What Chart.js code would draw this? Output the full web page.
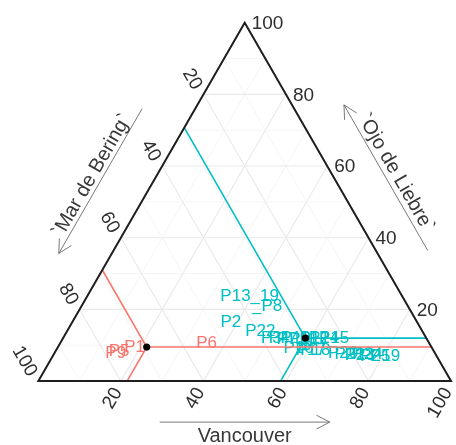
<!DOCTYPE html>
<html>
<head>
<meta charset="utf-8">
<script src="https://cdn.jsdelivr.net/npm/chart.js@4/dist/chart.umd.min.js"></script>
<style>
  html, body { margin: 0; padding: 0; background: #ffffff; }
  #wrap { width: 456px; height: 445px; position: relative; }
</style>
</head>
<body>
<div id="wrap"><canvas id="chart"></canvas></div>
<script>
// Composition (%) of each sample: Mar de Bering, Ojo de Liebre, Vancouver
const redLabels     = ["P9", "P5", "P1", "P6"];
const redBering     = [77.3, 76.2, 71.9, 53.9];
const redOjo        = [7.9, 8.5, 9.6, 10.7];
const redVancouver  = [14.8, 15.3, 18.5, 35.4];

const tealLabels    = ["P13_19", "_P8", "P2", "P22", "P3", "P4", "P7", "P10", "P11", "P12", "P14",
                       "P15", "P16", "P17", "P18", "P20", "P21", "P23", "P24", "P25", "P19"];
const tealBering    = [36.9, 34.0, 45.0, 39.1, 37.5, 35.5, 33.9, 31.6, 29.8, 27.0, 24.6,
                       22.3, 32.3, 29.5, 28.5, 22.2, 20.7, 18.4, 16.4, 14.8, 12.4];
const tealOjo       = [23.8, 21.1, 16.7, 14.2, 12.1, 12.3, 11.8, 12.1, 11.8, 12.1, 12.3,
                       12.1, 9.3, 9.0, 8.8, 7.9, 7.7, 7.4, 7.7, 7.1, 7.1];
const tealVancouver = [39.3, 44.9, 38.3, 46.7, 50.4, 52.2, 54.3, 56.3, 58.4, 60.9, 63.1,
                       65.6, 58.4, 61.5, 62.7, 69.9, 71.6, 74.2, 75.9, 78.1, 80.5];

// Group centres (red, teal)
const centerBering    = [69.0, 29.3];
const centerOjo       = [9.5, 12.0];
const centerVancouver = [21.5, 58.7];

const axisTicks  = [20, 40, 60, 80, 100];
const gridSteps  = [10, 20, 30, 40, 50, 60, 70, 80, 90];

const RED  = "#F8766D";
const TEAL = "#00BFC4";
const FONT = "'Liberation Sans', Arial, sans-serif";
const H = Math.sqrt(3) / 2;

// ternary (Bering, Ojo, Vancouver) -> cartesian in the unit triangle
function tern(l, t, r) {
  const s = l + t + r;
  return { x: (r + t / 2) / s, y: (t / s) * H };
}
function points(L, T, R) { return L.map((l, i) => tern(l, T[i], R[i])); }

// segments from a centre to each of the three axes
function projections(i) {
  const l = centerBering[i], t = centerOjo[i], r = centerVancouver[i];
  const c = tern(l, t, r);
  return [
    [c, tern(0, t, 100 - t)],      // constant Ojo de Liebre -> right edge
    [c, tern(l, 100 - l, 0)],      // constant Mar de Bering -> left edge
    [c, tern(100 - r, 0, r)]       // constant Vancouver -> bottom edge
  ];
}

const lineSets = [];
[RED, TEAL].forEach((col, i) => {
  projections(i).forEach(seg => lineSets.push({
    type: "scatter", data: seg, showLine: true, borderColor: col, borderWidth: 1.6,
    pointRadius: 0, order: 2
  }));
});

const redPts  = points(redBering, redOjo, redVancouver);
const tealPts = points(tealBering, tealOjo, tealVancouver);
const centers = points(centerBering, centerOjo, centerVancouver);

function px(chart, p) {
  return { x: chart.scales.x.getPixelForValue(p.x), y: chart.scales.y.getPixelForValue(p.y) };
}

const ternaryPlugin = {
  id: "ternary",
  beforeDatasetsDraw(chart) {
    const ctx = chart.ctx;
    ctx.save();
    // grid
    gridSteps.forEach(g => {
      ctx.strokeStyle = g % 20 === 0 ? "#e9e9e9" : "#f2f2f2";
      ctx.lineWidth = g % 20 === 0 ? 1.1 : 0.8;
      const segs = [
        [tern(100 - g, g, 0), tern(0, g, 100 - g)],
        [tern(g, 100 - g, 0), tern(g, 0, 100 - g)],
        [tern(0, 100 - g, g), tern(100 - g, 0, g)]
      ];
      segs.forEach(([a, b]) => {
        const pa = px(chart, a), pb = px(chart, b);
        ctx.beginPath(); ctx.moveTo(pa.x, pa.y); ctx.lineTo(pb.x, pb.y); ctx.stroke();
      });
    });
    // sample labels
    ctx.font = "17px " + FONT;
    ctx.textAlign = "center";
    ctx.textBaseline = "middle";
    chart.data.datasets.forEach((ds, di) => {
      if (!ds.labels) return;
      const meta = chart.getDatasetMeta(di);
      ctx.fillStyle = ds.textColor;
      meta.data.forEach((el, i) => ctx.fillText(ds.labels[i], el.x, el.y + 1));
    });
    ctx.restore();
  },
  afterDatasetsDraw(chart) {
    const ctx = chart.ctx;
    const A = px(chart, tern(100, 0, 0));   // bottom-left
    const B = px(chart, tern(0, 0, 100));   // bottom-right
    const C = px(chart, tern(0, 100, 0));   // top
    ctx.save();
    ctx.strokeStyle = "#1e1e1e";
    ctx.lineWidth = 2;
    ctx.lineJoin = "miter";
    ctx.beginPath(); ctx.moveTo(A.x, A.y); ctx.lineTo(B.x, B.y); ctx.lineTo(C.x, C.y); ctx.closePath(); ctx.stroke();

    // tick labels
    ctx.fillStyle = "#2e2e2e";
    ctx.font = "19px " + FONT;
    axisTicks.forEach(v => {
      const pr = px(chart, tern(0, v, 100 - v));
      ctx.textAlign = "left"; ctx.textBaseline = "middle";
      ctx.fillText(String(v), pr.x + 7, pr.y + 1);

      const pb = px(chart, tern(100 - v, 0, v));
      ctx.save(); ctx.translate(pb.x - 3, pb.y + 8); ctx.rotate(-Math.PI / 3);
      ctx.textAlign = "right"; ctx.fillText(String(v), 0, 0); ctx.restore();

      const pl = px(chart, tern(v, 100 - v, 0));
      ctx.save(); ctx.translate(pl.x - 6, pl.y - 6); ctx.rotate(Math.PI / 3);
      ctx.textAlign = "right"; ctx.fillText(String(v), 0, 0); ctx.restore();
    });

    // axis titles with arrows
    function arrow(x1, y1, x2, y2) {
      const ang = Math.atan2(y2 - y1, x2 - x1), len = 15, spread = 0.48;
      ctx.beginPath();
      ctx.moveTo(x1, y1); ctx.lineTo(x2, y2);
      ctx.moveTo(x2 - len * Math.cos(ang - spread), y2 - len * Math.sin(ang - spread));
      ctx.lineTo(x2, y2);
      ctx.lineTo(x2 - len * Math.cos(ang + spread), y2 - len * Math.sin(ang + spread));
      ctx.stroke();
    }
    ctx.strokeStyle = "#6a6a6a";
    ctx.lineWidth = 0.9;
    ctx.fillStyle = "#383838";
    ctx.font = "20px " + FONT;
    ctx.textAlign = "center"; ctx.textBaseline = "middle";

    // bottom
    const mb = { x: (A.x + B.x) / 2, y: A.y };
    arrow(mb.x - 85, mb.y + 41, mb.x + 85, mb.y + 41);
    ctx.fillText("Vancouver", mb.x, mb.y + 55);

    // left edge
    const ml = { x: (A.x + C.x) / 2, y: (A.y + C.y) / 2 };
    const dl = { x: (C.x - A.x), y: (C.y - A.y) }; const ll = Math.hypot(dl.x, dl.y);
    const ul = { x: dl.x / ll, y: dl.y / ll }, nl = { x: ul.y, y: -ul.x };
    const al = { x: ml.x + nl.x * 46 - ul.x * 2.5, y: ml.y + nl.y * 46 - ul.y * 2.5 };
    arrow(al.x + ul.x * 83.5, al.y + ul.y * 83.5, al.x - ul.x * 83.5, al.y - ul.y * 83.5);
    ctx.save();
    ctx.translate(ml.x + nl.x * 56 - ul.x * 2, ml.y + nl.y * 56 - ul.y * 2);
    ctx.rotate(-Math.PI / 3);
    ctx.fillText("`Mar de Bering`", 0, 0);
    ctx.restore();

    // right edge
    const mr = { x: (B.x + C.x) / 2, y: (B.y + C.y) / 2 };
    const dr = { x: (C.x - B.x), y: (C.y - B.y) }; const lr = Math.hypot(dr.x, dr.y);
    const ur = { x: dr.x / lr, y: dr.y / lr }, nr = { x: -ur.y, y: ur.x };
    const ar = { x: mr.x + nr.x * 45 + ur.x * 2, y: mr.y + nr.y * 45 + ur.y * 2 };
    arrow(ar.x - ur.x * 84, ar.y - ur.y * 84, ar.x + ur.x * 84, ar.y + ur.y * 84);
    ctx.save();
    ctx.translate(mr.x + nr.x * 56 + ur.x * 1, mr.y + nr.y * 56 + ur.y * 1);
    ctx.rotate(Math.PI / 3);
    ctx.fillText("`Ojo de Liebre`", 0, 0);
    ctx.restore();

    ctx.restore();
  }
};

new Chart(document.getElementById("chart"), {
  type: "scatter",
  data: {
    datasets: [
      { data: redPts, labels: redLabels, textColor: RED, pointRadius: 0, order: 3 },
      { data: tealPts, labels: tealLabels, textColor: TEAL, pointRadius: 0, order: 3 },
      ...lineSets,
      { data: centers, pointRadius: 3.6, pointBackgroundColor: "#000000",
        pointBorderColor: "#000000", pointBorderWidth: 0, order: 1 }
    ]
  },
  options: {
    responsive: true,
    maintainAspectRatio: false,
    animation: false,
    layout: { padding: 0 },
    plugins: { legend: { display: false }, tooltip: { enabled: false } },
    scales: {
      x: { type: "linear", display: false, min: -0.08333, max: 1.00238 },
      y: { type: "linear", display: false, min: -0.1447, max: 0.9111 }
    }
  },
  plugins: [ternaryPlugin]
});
</script>
</body>
</html>
